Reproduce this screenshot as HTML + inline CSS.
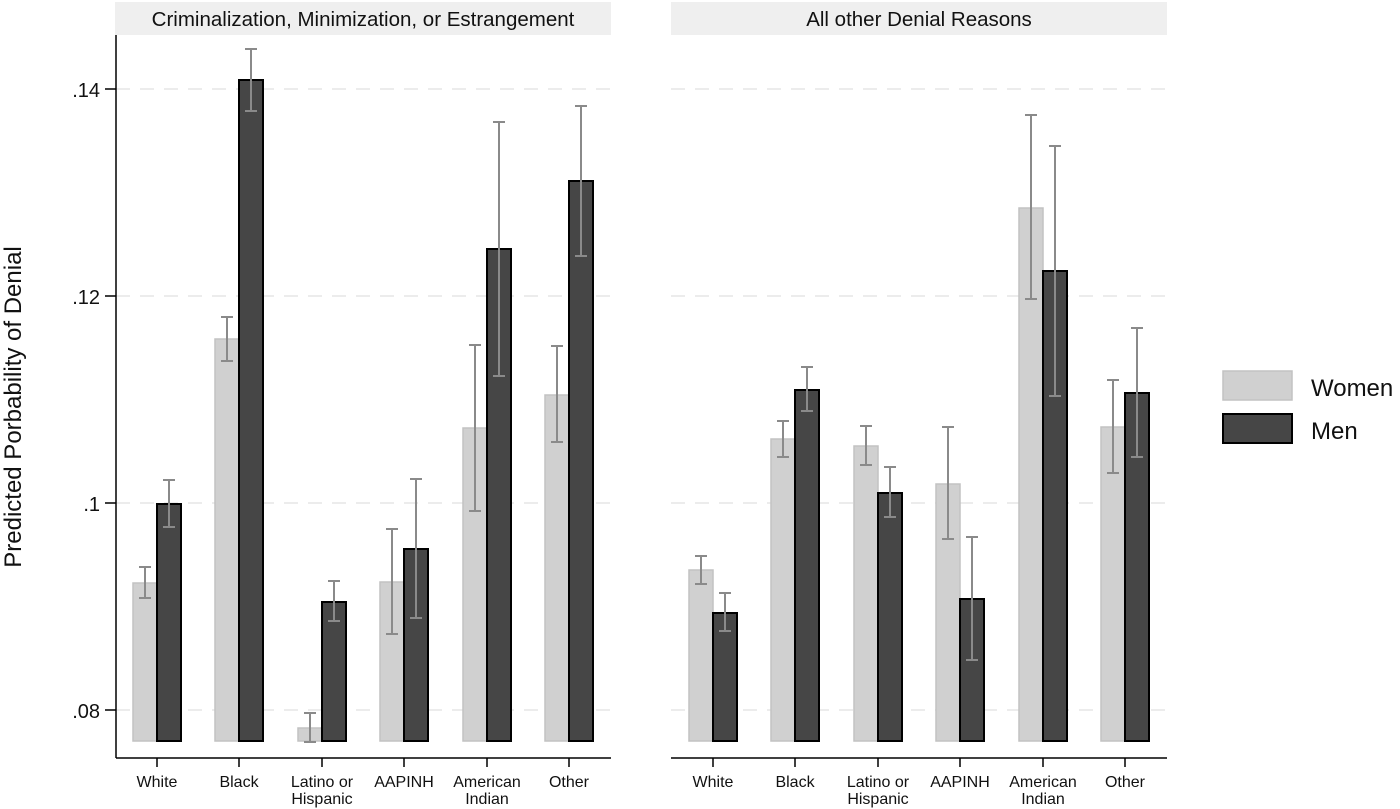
<!DOCTYPE html>
<html><head><meta charset="utf-8"><style>
html,body{margin:0;padding:0;background:#fff;}
svg{display:block;font-family:"Liberation Sans",Arial,sans-serif;}
</style></head><body>
<svg width="1400" height="809" viewBox="0 0 1400 809" xmlns="http://www.w3.org/2000/svg">
<rect width="1400" height="809" fill="#fff"/>
<rect x="115" y="2" width="496" height="33" fill="#efefef"/>
<rect x="671" y="2" width="496" height="33" fill="#efefef"/>
<text x="363" y="26" font-size="20.5" text-anchor="middle" fill="#111">Criminalization, Minimization, or Estrangement</text>
<text x="919" y="26" font-size="20.5" text-anchor="middle" fill="#111">All other Denial Reasons</text>
<g stroke="#e6e6e6" stroke-width="1.5" stroke-dasharray="14,10">
<line x1="116" y1="89" x2="611" y2="89"/><line x1="116" y1="296" x2="611" y2="296"/><line x1="116" y1="503" x2="611" y2="503"/><line x1="116" y1="710" x2="611" y2="710"/>
<line x1="671" y1="89" x2="1167" y2="89"/><line x1="671" y1="296" x2="1167" y2="296"/><line x1="671" y1="503" x2="1167" y2="503"/><line x1="671" y1="710" x2="1167" y2="710"/>
</g>
<g stroke="#000" stroke-width="1.5">
<line x1="116" y1="35" x2="116" y2="758"/>
<line x1="116" y1="758" x2="611" y2="758"/>
<line x1="671" y1="758" x2="1167" y2="758"/>
<line x1="105" y1="89" x2="116" y2="89"/><line x1="105" y1="296" x2="116" y2="296"/><line x1="105" y1="503" x2="116" y2="503"/><line x1="105" y1="710" x2="116" y2="710"/>
<line x1="157" y1="758" x2="157" y2="767"/><line x1="239" y1="758" x2="239" y2="767"/><line x1="322" y1="758" x2="322" y2="767"/><line x1="404" y1="758" x2="404" y2="767"/><line x1="487" y1="758" x2="487" y2="767"/><line x1="569" y1="758" x2="569" y2="767"/>
<line x1="713" y1="758" x2="713" y2="767"/><line x1="795" y1="758" x2="795" y2="767"/><line x1="878" y1="758" x2="878" y2="767"/><line x1="960" y1="758" x2="960" y2="767"/><line x1="1043" y1="758" x2="1043" y2="767"/><line x1="1125" y1="758" x2="1125" y2="767"/>
</g>
<g font-size="20" text-anchor="end" fill="#111">
<text x="100" y="97">.14</text><text x="100" y="304">.12</text><text x="100" y="511">.1</text><text x="100" y="718">.08</text>
</g>
<text transform="translate(21,407) rotate(-90)" font-size="24" text-anchor="middle" fill="#111">Predicted Porbability of Denial</text>
<g font-size="16" text-anchor="middle" fill="#111">
<text x="157" y="787">White</text><text x="239" y="787">Black</text><text x="322" y="787">Latino or</text><text x="322" y="804">Hispanic</text><text x="404" y="787">AAPINH</text><text x="487" y="787">American</text><text x="487" y="804">Indian</text><text x="569" y="787">Other</text>
<text x="713" y="787">White</text><text x="795" y="787">Black</text><text x="878" y="787">Latino or</text><text x="878" y="804">Hispanic</text><text x="960" y="787">AAPINH</text><text x="1043" y="787">American</text><text x="1043" y="804">Indian</text><text x="1125" y="787">Other</text>
</g>
<g fill="#d0d0d0" stroke="#c2c2c2" stroke-width="1.5">
<rect x="133" y="583" width="24" height="158"/>
<rect x="215" y="339" width="24" height="402"/>
<rect x="298" y="728" width="24" height="13"/>
<rect x="380" y="582" width="24" height="159"/>
<rect x="463" y="428" width="24" height="313"/>
<rect x="545" y="395" width="24" height="346"/>
<rect x="689" y="570" width="24" height="171"/>
<rect x="771" y="439" width="24" height="302"/>
<rect x="854" y="446" width="24" height="295"/>
<rect x="936" y="484" width="24" height="257"/>
<rect x="1019" y="208" width="24" height="533"/>
<rect x="1101" y="427" width="24" height="314"/>
</g>
<g fill="#464646" stroke="#000" stroke-width="2">
<rect x="157" y="504" width="24" height="237"/>
<rect x="239" y="80" width="24" height="661"/>
<rect x="322" y="602" width="24" height="139"/>
<rect x="404" y="549" width="24" height="192"/>
<rect x="487" y="249" width="24" height="492"/>
<rect x="569" y="181" width="24" height="560"/>
<rect x="713" y="613" width="24" height="128"/>
<rect x="795" y="390" width="24" height="351"/>
<rect x="878" y="493" width="24" height="248"/>
<rect x="960" y="599" width="24" height="142"/>
<rect x="1043" y="271" width="24" height="470"/>
<rect x="1125" y="393" width="24" height="348"/>
</g>
<g stroke="#8a8a8a" stroke-width="2" fill="none">
<path d="M145 567V598M139 567H151M139 598H151"/>
<path d="M169 480V527M163 480H175M163 527H175"/>
<path d="M227 317V361M221 317H233M221 361H233"/>
<path d="M251 49V111M245 49H257M245 111H257"/>
<path d="M310 713V742M304 713H316M304 742H316"/>
<path d="M334 581V621M328 581H340M328 621H340"/>
<path d="M392 529V634M386 529H398M386 634H398"/>
<path d="M416 479V618M410 479H422M410 618H422"/>
<path d="M475 345V511M469 345H481M469 511H481"/>
<path d="M499 122V376M493 122H505M493 376H505"/>
<path d="M557 346V442M551 346H563M551 442H563"/>
<path d="M581 106V256M575 106H587M575 256H587"/>
<path d="M701 556V584M695 556H707M695 584H707"/>
<path d="M725 593V631M719 593H731M719 631H731"/>
<path d="M783 421V457M777 421H789M777 457H789"/>
<path d="M807 367V411M801 367H813M801 411H813"/>
<path d="M866 426V465M860 426H872M860 465H872"/>
<path d="M890 467V517M884 467H896M884 517H896"/>
<path d="M948 427V539M942 427H954M942 539H954"/>
<path d="M972 537V660M966 537H978M966 660H978"/>
<path d="M1031 115V299M1025 115H1037M1025 299H1037"/>
<path d="M1055 146V396M1049 146H1061M1049 396H1061"/>
<path d="M1113 380V473M1107 380H1119M1107 473H1119"/>
<path d="M1137 328V457M1131 328H1143M1131 457H1143"/>
</g>
<rect x="1223" y="371" width="69" height="29" fill="#d0d0d0" stroke="#c2c2c2" stroke-width="1.5"/>
<rect x="1223" y="414" width="69" height="29" fill="#464646" stroke="#000" stroke-width="2"/>
<text x="1311" y="396" font-size="24" fill="#111">Women</text>
<text x="1311" y="439" font-size="24" fill="#111">Men</text>
</svg>
</body></html>
